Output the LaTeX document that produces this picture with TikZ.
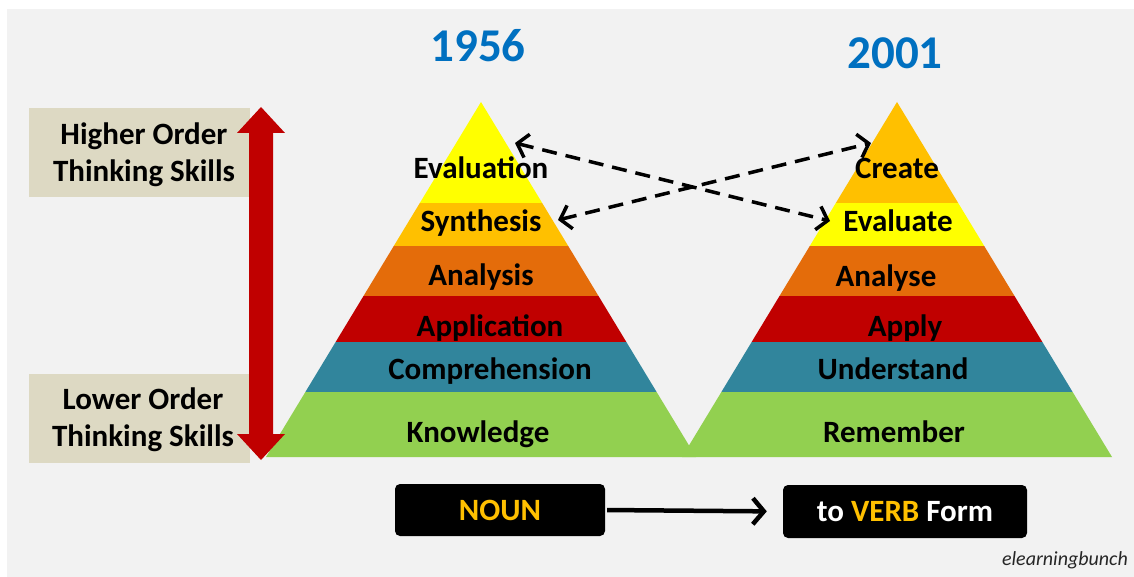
\documentclass[tikz,border=0pt]{standalone}
\usepackage{fontspec}
\setmainfont{Carlito}
\usetikzlibrary{arrows.meta}
\definecolor{bg}{HTML}{F2F2F2}
\definecolor{tan}{HTML}{DDD9C3}
\definecolor{cyel}{HTML}{FFFF00}
\definecolor{cgold}{HTML}{FFC000}
\definecolor{corange}{HTML}{E46C0A}
\definecolor{cred}{HTML}{C00000}
\definecolor{cteal}{HTML}{31859C}
\definecolor{cgreen}{HTML}{92D050}
\definecolor{cblue}{HTML}{0070C0}
\begin{document}
\begin{tikzpicture}[x=1pt,y=-1pt,
  lbl/.style={font=\bfseries\fontsize{31}{37}\selectfont, text=black, inner sep=0pt, anchor=base},
  sidetxt/.style={font=\bfseries\fontsize{31}{37}\selectfont, text=black, inner sep=0pt, align=center},
  titletxt/.style={font=\bfseries\fontsize{47}{50}\selectfont, text=cblue, inner sep=0pt},
  tanbox/.style={fill=tan, minimum width=221pt, minimum height=89pt, inner sep=0pt},
  blackbox/.style={fill=black, rounded corners=5pt, inner sep=0pt, font=\bfseries\fontsize{31}{37}\selectfont},
  dasharrow/.style={dashed, dash pattern=on 15pt off 9pt, line width=3.5pt, {Straight Barb[length=10pt,width=24pt]}-{Straight Barb[length=10pt,width=24pt]}},
  solidarrow/.style={line width=4.5pt, -{Straight Barb[length=11pt,width=26pt]}}
]
\useasboundingbox (0,0) rectangle (1134,577);
\fill[white] (0,0) rectangle (1134,577);
\fill[bg] (7,9) rectangle (1134,577);

% left pyramid
\begin{scope}
  \clip (481,102) -- (266,457) -- (696,457) -- cycle;
  \fill[cyel] (250,90) rectangle (720,203);
  \fill[cgold] (250,203) rectangle (720,246);
  \fill[corange] (250,246) rectangle (720,296);
  \fill[cred] (250,296) rectangle (720,342);
  \fill[cteal] (250,342) rectangle (720,392);
  \fill[cgreen] (250,392) rectangle (720,460);
\end{scope}
% right pyramid
\begin{scope}
  \clip (897,102) -- (682,457) -- (1112,457) -- cycle;
  \fill[cgold] (660,90) rectangle (1130,203);
  \fill[cyel] (660,203) rectangle (1130,246);
  \fill[corange] (660,246) rectangle (1130,296);
  \fill[cred] (660,296) rectangle (1130,342);
  \fill[cteal] (660,342) rectangle (1130,392);
  \fill[cgreen] (660,392) rectangle (1130,460);
\end{scope}

% titles
\node[titletxt] (t1956) at (478,46) {1956};
\node[titletxt] (t2001) at (895,53) {2001};

% left labels
\node[lbl] (evaluation) at (481,179) {Evaluation};
\node[lbl] (synthesis) at (481,232) {Synthesis};
\node[lbl] (analysis) at (481,285) {Analysis};
\node[lbl] (application) at (490,336) {Application};
\node[lbl] (comprehension) at (490,379) {Comprehension};
\node[lbl] (knowledge) at (478,442) {Knowledge};
% right labels
\node[lbl] (create) at (897,179) {Create};
\node[lbl] (evaluate) at (898,232) {Evaluate};
\node[lbl] (analyse) at (886,286) {Analyse};
\node[lbl] (apply) at (905,336) {Apply};
\node[lbl] (understand) at (893,379) {Understand};
\node[lbl] (remember) at (894,442) {Remember};

% side boxes
\node[tanbox] (hibox) at (139.5,152.5) {};
\node[tanbox] (lobox) at (139.5,418) {};
\node[sidetxt] (hitxt) at (144,155) {Higher Order\\Thinking Skills};
\node[sidetxt] (lotxt) at (143,420) {Lower Order\\Thinking Skills};

% red double arrow
\fill[cred] (261,107) -- (285,133) -- (273,133) -- (273,434) -- (285,434) -- (261,460)
  -- (237,434) -- (249,434) -- (249,133) -- (237,133) -- cycle;

% dashed arrows
\coordinate (pEvaluation) at (515,143);
\coordinate (pEvaluate) at (830,221);
\coordinate (pSynthesis) at (558,220);
\coordinate (pCreate) at (871,143);
\draw[dasharrow] (pEvaluation) -- (pEvaluate);
\draw[dasharrow] (pSynthesis) -- (pCreate);

% bottom boxes
\node[blackbox, minimum width=210pt, minimum height=52pt, text=cgold] (noun) at (500,510) {NOUN};
\node[blackbox, minimum width=244pt, minimum height=53pt, text=white] (verb) at (905,511.5) {to \textcolor{cgold}{VERB} Form};
\draw[solidarrow, shorten <=2pt, shorten >=16pt] (noun.east) -- (verb.west);

% watermark
\node[anchor=base east, inner sep=0pt, font=\itshape\fontsize{20}{24}\selectfont, text=black!85] (wm) at (1128,565) {elearningbunch};
\end{tikzpicture}
\end{document}
